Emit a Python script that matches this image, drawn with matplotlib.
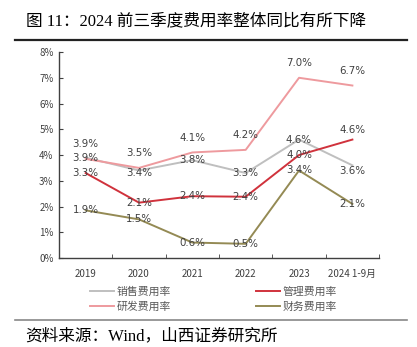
import matplotlib.pyplot as plt
import numpy as np

plt.rcParams['font.family'] = ['Noto Sans CJK SC', 'DejaVu Sans']

# data
years = ['2019', '2020', '2021', '2022', '2023', '2024 1-9月']
sales = [3.9, 3.4, 3.8, 3.3, 4.6, 3.6]        # 销售费用率
admin = [3.3, 2.15, 2.4, 2.38, 4.0, 4.6]      # 管理费用率
rnd = [3.85, 3.5, 4.1, 4.2, 7.0, 6.7]         # 研发费用率
finance = [1.85, 1.5, 0.6, 0.55, 3.4, 2.1]    # 财务费用率

sales_lbl = ['3.9%', '3.4%', '3.8%', '3.3%', '4.6%', '3.6%']
admin_lbl = ['3.3%', '2.1%', '2.4%', '2.4%', '4.0%', '4.6%']
rnd_lbl = ['3.9%', '3.5%', '4.1%', '4.2%', '7.0%', '6.7%']
finance_lbl = ['1.9%', '1.5%', '0.6%', '0.5%', '3.4%', '2.1%']

c_sales = '#BFBFBF'
c_admin = '#D0323C'
c_rnd = '#EE9A9E'
c_fin = '#948A54'

fig = plt.figure(figsize=(4.17, 3.47), dpi=100)
ax = fig.add_axes([0.1415, 0.2565, 0.7675, 0.5935])
x = np.arange(len(years))

ax.plot(x, sales, color=c_sales, lw=1.4, label='销售费用率')
ax.plot(x, rnd, color=c_rnd, lw=1.4, label='研发费用率')
ax.plot(x, admin, color=c_admin, lw=1.4, label='管理费用率')
ax.plot(x, finance, color=c_fin, lw=1.4, label='财务费用率')

lab_kw = dict(ha='center', va='center', fontsize=7.4, color='#404040',
              family=['DejaVu Sans'])
# label offsets in points
sales_dy = [0, -2, 0, 0, 0, -4]
admin_dy = [0, 0, 0, 0, 0, 7]
for i in range(len(x)):
    ax.annotate(sales_lbl[i], (x[i], sales[i]), xytext=(0, sales_dy[i]),
                textcoords='offset points', **lab_kw)
    ax.annotate(admin_lbl[i], (x[i], admin[i]), xytext=(0, admin_dy[i]),
                textcoords='offset points', **lab_kw)
    ax.annotate(rnd_lbl[i], (x[i], rnd[i]), xytext=(0, 10.5),
                textcoords='offset points', **lab_kw)
    ax.annotate(finance_lbl[i], (x[i], finance[i]), xytext=(0, 0),
                textcoords='offset points', **lab_kw)

ax.set_xlim(-0.5, 5.5)
ax.set_ylim(0, 8)
ax.set_yticks(np.arange(0, 9, 1))
ax.set_yticklabels([f'{v}%' for v in range(9)])
ax.set_xticks(x)
ax.set_xticklabels(years)
ax.set_xticks(np.arange(-0.5, 6, 1), minor=True)
ax.tick_params(axis='x', which='major', length=0, pad=8, labelsize=7,
               labelcolor='#404040')
ax.tick_params(axis='x', which='minor', direction='in', length=3, color='#404040')
ax.tick_params(axis='y', direction='in', length=3, labelsize=7,
               labelcolor='#404040', color='#404040', pad=4)
for s in ['top', 'right']:
    ax.spines[s].set_visible(False)
for s in ['left', 'bottom']:
    ax.spines[s].set_color('#404040')
    ax.spines[s].set_linewidth(1.0)

ax.legend(loc='upper left', bbox_to_anchor=(0.065, -0.09), ncol=2,
          frameon=False, fontsize=7.8, handlelength=2.3, handletextpad=0.2,
          columnspacing=7.8, labelspacing=0.45, labelcolor='#595959')

# title and source with rules
fig.text(0.062, 0.94, '图 11：2024 前三季度费用率整体同比有所下降',
         fontsize=12, va='center', ha='left',
         family=['Liberation Serif', 'Noto Sans CJK SC'])
fig.add_artist(plt.Line2D([0.036, 0.976], [0.884, 0.884], color='#222222', lw=1.6))
fig.add_artist(plt.Line2D([0.036, 0.976], [0.078, 0.078], color='#888888', lw=1.2))
fig.text(0.06, 0.032, '资料来源：Wind，山西证券研究所', fontsize=12,
         va='center', ha='left', family=['Liberation Serif', 'Noto Sans CJK SC'])

fig.savefig('out.png', dpi=100)
